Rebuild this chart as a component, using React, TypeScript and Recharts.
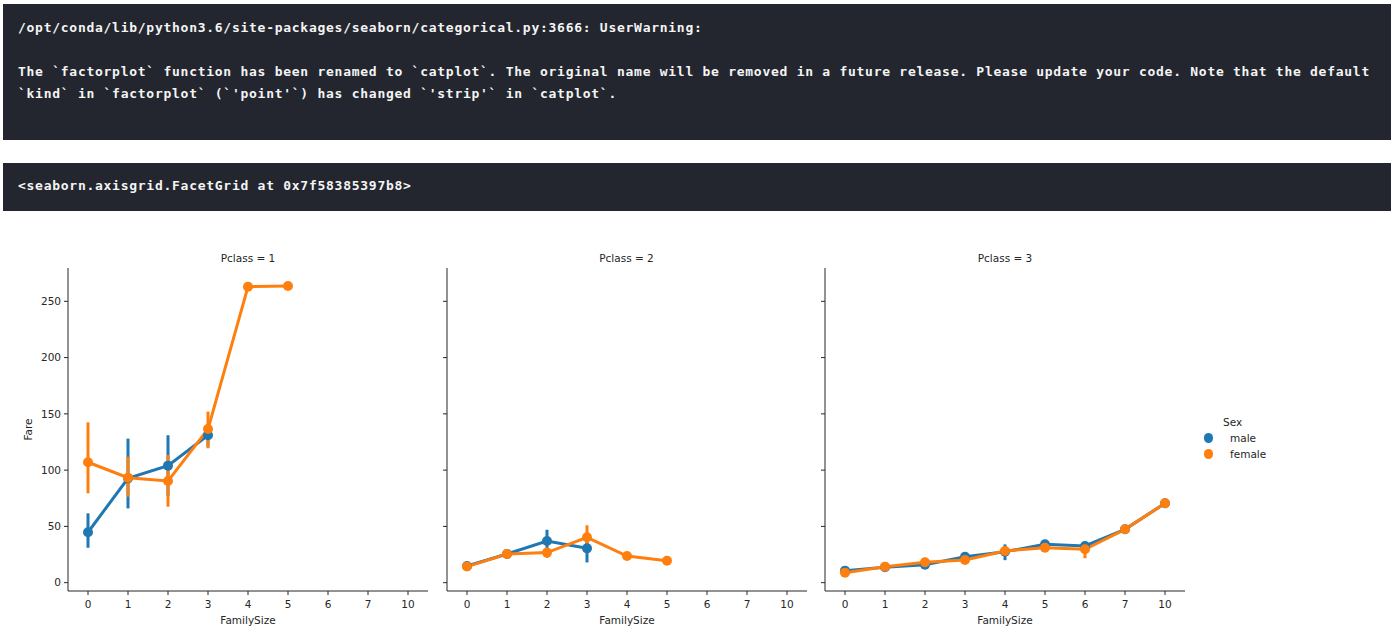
import { LineChart, Line, XAxis, YAxis, ErrorBar, Legend } from "recharts";

const familySizes = ["0", "1", "2", "3", "4", "5", "6", "7", "10"];
const yTicks = [0, 50, 100, 150, 200, 250];
const hueOrder = ["male", "female"];

// Pclass = 1
const p1Male = [44.8, 92.7, 104, 131, null, null, null, null, null];
const p1MaleLo = [31, 66, 77, 121, null, null, null, null, null];
const p1MaleHi = [61.6, 128, 131, 141, null, null, null, null, null];
const p1Female = [107, 93.3, 90.4, 136.5, 263, 263.6, null, null, null];
const p1FemaleLo = [79.4, 76.4, 67.5, 119.4, null, null, null, null, null];
const p1FemaleHi = [142.5, 112, 113.5, 152, null, null, null, null, null];

// Pclass = 2
const p2Male = [14.8, 25.5, 37, 30.5, null, null, null, null, null];
const p2MaleLo = [13, 23, 29, 18, null, null, null, null, null];
const p2MaleHi = [17, 28, 47, 42, null, null, null, null, null];
const p2Female = [14.3, 25.5, 26.7, 40.3, 23.7, 19.5, null, null, null];
const p2FemaleLo = [12.5, 23, 22, 32, 21, 17, null, null, null];
const p2FemaleHi = [16, 28, 31, 51, 26.5, 22, null, null, null];

// Pclass = 3
const p3Male = [10.7, 13.7, 16, 23.1, 27.5, 34.1, 32.6, 47.4, 70.5];
const p3MaleLo = [9.5, 12.5, 14.5, 21, 20, 31, 30, 46, 69.5];
const p3MaleHi = [12, 15, 17.5, 25, 34, 37, 35, 49, 71.5];
const p3Female = [8.9, 14.2, 18.1, 20.2, 28.2, 31.1, 29.7, 47.4, 70.5];
const p3FemaleLo = [7.5, 12.5, 16, 18, 25, 28, 21.7, 46, 69.5];
const p3FemaleHi = [10.5, 16, 20, 22.5, 31, 34, 34, 49, 71.5];

const MALE = "#1f77b4";
const FEMALE = "#ff7f0e";
const INK = "#262626";

type V = number | null;

function err(v: V, lo: V, hi: V) {
  if (v == null || lo == null || hi == null) return null;
  return [v - lo, hi - v];
}

function buildRows(m: V[], mLo: V[], mHi: V[], f: V[], fLo: V[], fHi: V[]) {
  return familySizes.map((fs, i) => ({
    fs,
    male: m[i],
    maleErr: err(m[i], mLo[i], mHi[i]),
    female: f[i],
    femaleErr: err(f[i], fLo[i], fHi[i]),
  }));
}

const SexLegend = ({ payload }: any) => {
  const items = [...(payload || [])].sort(
    (a: any, b: any) => hueOrder.indexOf(a.value) - hueOrder.indexOf(b.value)
  );
  return (
    <div style={{ fontSize: 10.5, color: INK, lineHeight: "16px" }}>
      <div style={{ paddingLeft: 19.5 }}>Sex</div>
      {items.map((p: any) => (
        <div key={p.value} style={{ display: "flex", alignItems: "center", height: 16 }}>
          <span
            style={{
              display: "inline-block",
              width: 9.5,
              height: 9.5,
              borderRadius: "50%",
              background: p.color,
            }}
          />
          <span style={{ marginLeft: 17 }}>{p.value}</span>
        </div>
      ))}
    </div>
  );
};

function Panel({ left, width, title, rows, first, legend }: any) {
  const marginRight = width - 428;
  return (
    <div style={{ position: "absolute", left, top: 240, width, height: 392 }}>
      <div
        style={{
          position: "absolute",
          left: 68,
          top: 12,
          width: 360,
          textAlign: "center",
          fontSize: 10.5,
          lineHeight: "12px",
          color: INK,
        }}
      >
        {title}
      </div>
      <LineChart
        width={width}
        height={392}
        data={rows}
        margin={{ top: 28, right: marginRight, left: 28, bottom: 8 }}
      >
        <XAxis
          dataKey="fs"
          height={33}
          padding={{ left: 20, right: 20 }}
          tickSize={4}
          tickMargin={6}
          tick={{ fill: INK, fontSize: 10.5 }}
          tickLine={{ stroke: INK }}
          axisLine={{ stroke: INK }}
          label={{ value: "FamilySize", position: "insideBottom", offset: 0, fill: INK, fontSize: 10.5 }}
        />
        <YAxis
          type="number"
          width={40}
          domain={[-7.4, 279.6]}
          ticks={yTicks}
          allowDataOverflow
          tickSize={4}
          tickMargin={3}
          tick={{ fill: INK, fontSize: 10.5 }}
          tickLine={{ stroke: INK }}
          axisLine={{ stroke: INK }}
          tickFormatter={first ? undefined : () => ""}
          label={
            first
              ? {
                  value: "Fare",
                  angle: -90,
                  position: "insideLeft",
                  offset: 0,
                  style: { textAnchor: "middle", fill: INK, fontSize: 10.5 },
                }
              : undefined
          }
        />
        <Line
          dataKey="male"
          name="male"
          stroke={MALE}
          strokeWidth={3}
          dot={{ r: 5, fill: MALE, stroke: MALE, strokeWidth: 0 }}
          activeDot={false}
          isAnimationActive={false}
        >
          <ErrorBar dataKey="maleErr" direction="y" width={0} stroke={MALE} strokeWidth={3} />
        </Line>
        <Line
          dataKey="female"
          name="female"
          stroke={FEMALE}
          strokeWidth={3}
          dot={{ r: 5, fill: FEMALE, stroke: FEMALE, strokeWidth: 0 }}
          activeDot={false}
          isAnimationActive={false}
        >
          <ErrorBar dataKey="femaleErr" direction="y" width={0} stroke={FEMALE} strokeWidth={3} />
        </Line>
        {legend && (
          <Legend
            layout="vertical"
            align="center"
            verticalAlign="middle"
            content={SexLegend}
            wrapperStyle={{ left: 446.5, top: 174, width: 100 }}
          />
        )}
      </LineChart>
    </div>
  );
}

const warningLines = [
  "/opt/conda/lib/python3.6/site-packages/seaborn/categorical.py:3666: UserWarning:",
  "",
  "The `factorplot` function has been renamed to `catplot`. The original name will be removed in a future release. Please update your code. Note that the default",
  "`kind` in `factorplot` (`'point'`) has changed `'strip'` in `catplot`.",
];
const reprLine = "<seaborn.axisgrid.FacetGrid at 0x7f58385397b8>";

const codeFont = {
  fontFamily: "'DejaVu Sans Mono', monospace",
  fontSize: 13,
  letterSpacing: 0.73,
  fontWeight: 700,
  color: "#f4f4f4",
  whiteSpace: "pre" as const,
  lineHeight: "22px",
};

export default function App() {
  return (
    <div
      style={{
        position: "absolute",
        left: 0,
        top: 0,
        width: 1397,
        height: 632,
        background: "#fff",
        overflow: "hidden",
        fontFamily: "'DejaVu Sans', sans-serif",
      }}
    >
      <div
        style={{
          position: "absolute",
          left: 3,
          top: 4,
          width: 1388,
          height: 136,
          background: "#23262e",
          boxSizing: "border-box",
          padding: "13px 0 0 15px",
          ...codeFont,
        }}
      >
        {warningLines.map((l, i) => (
          <div key={i} style={{ height: 22 }}>
            {l}
          </div>
        ))}
      </div>
      <div
        style={{
          position: "absolute",
          left: 3,
          top: 163,
          width: 1388,
          height: 48,
          background: "#23262e",
          boxSizing: "border-box",
          padding: "12px 0 0 15px",
          ...codeFont,
        }}
      >
        {reprLine}
      </div>
      <Panel
        left={0}
        width={440}
        title="Pclass = 1"
        first
        rows={buildRows(p1Male, p1MaleLo, p1MaleHi, p1Female, p1FemaleLo, p1FemaleHi)}
      />
      <Panel
        left={378.5}
        width={440}
        title="Pclass = 2"
        rows={buildRows(p2Male, p2MaleLo, p2MaleHi, p2Female, p2FemaleLo, p2FemaleHi)}
      />
      <Panel
        left={757}
        width={640}
        title="Pclass = 3"
        legend
        rows={buildRows(p3Male, p3MaleLo, p3MaleHi, p3Female, p3FemaleLo, p3FemaleHi)}
      />
    </div>
  );
}
